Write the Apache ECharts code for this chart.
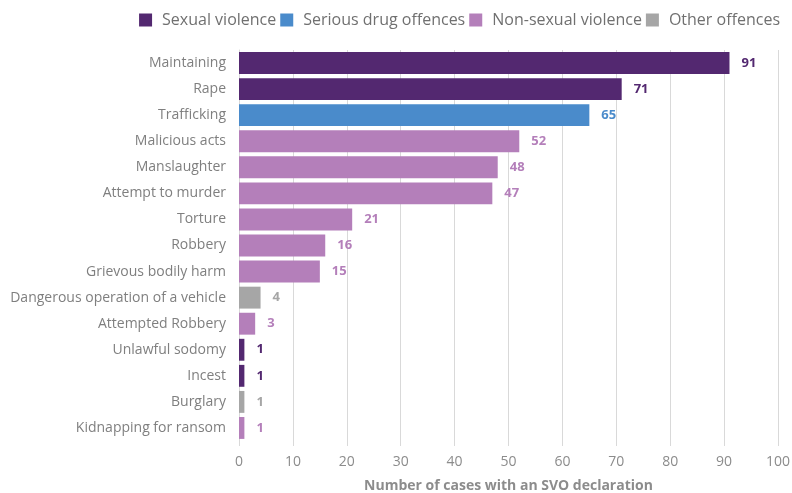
<!DOCTYPE html>
<html><head><meta charset="utf-8">
<script src="https://cdn.jsdelivr.net/npm/echarts@6/dist/echarts.min.js"></script>
<style>html,body{margin:0;padding:0;background:#fff}#c{width:792px;height:493px}</style>
</head><body><div id="c"></div>
<script>
var categories = ["Maintaining","Rape","Trafficking","Malicious acts","Manslaughter","Attempt to murder","Torture","Robbery","Grievous bodily harm","Dangerous operation of a vehicle","Attempted Robbery","Unlawful sodomy","Incest","Burglary","Kidnapping for ransom"];
var values = [91,71,65,52,48,47,21,16,15,4,3,1,1,1,1];
var groups = [0,0,1,2,2,2,2,2,2,3,2,0,0,3,2];
var groupNames = ["Sexual violence","Serious drug offences","Non-sexual violence","Other offences"];
var groupColors = ["#532870","#4a8bcb","#b47fba","#a6a6a6"];
var xTicks = {min:0,max:100,interval:10};

var font = "'Open Sans', 'Liberation Sans', sans-serif";
var series = groupNames.map(function(name, g){
  return {
    name: name, type: 'bar', stack: 'all', barCategoryGap: '16%',
    itemStyle: {color: groupColors[g]},
    label: {show: true, position: 'right', distance: 12, color: groupColors[g], fontWeight: 'bold', fontSize: 13, fontFamily: font,
      formatter: function(p){ return p.value; }},
    data: values.map(function(v,i){ return groups[i]===g ? v : '-'; })
  };
});
var chart = echarts.init(document.getElementById('c'));
chart.setOption({
  animation: false,
  legend: {top: 7, right: 7, itemWidth: 13, itemHeight: 13, itemGap: 4, icon: 'rect',
    textStyle: {fontSize: 16, color: '#707070', fontFamily: font, padding: [0,0,0,5]},
    data: groupNames},
  grid: {left: 239, right: 14, top: 50, bottom: 52, containLabel: false, outerBoundsMode: 'none'},
  xAxis: {type: 'value', min: xTicks.min, max: xTicks.max, interval: xTicks.interval,
    name: 'Number of cases with an SVO declaration', nameLocation: 'middle', nameGap: 38,
    nameTextStyle: {fontSize: 14, fontWeight: 'bold', color: '#8c8c8c', fontFamily: font},
    axisLine: {show: false},
    axisTick: {show: true, length: 5, lineStyle: {color: '#d9d9d9'}},
    axisLabel: {fontSize: 14, color: '#8c8c8c', margin: 14, fontFamily: font},
    splitLine: {show: true, lineStyle: {color: '#d9d9d9', width: 1}}},
  yAxis: {type: 'category', data: categories, inverse: true,
    axisLine: {show: true, lineStyle: {color: '#d9d9d9'}},
    axisTick: {show: false},
    axisLabel: {fontSize: 14, color: '#7f7f7f', margin: 13, fontFamily: font}},
  series: series
});
</script></body></html>
